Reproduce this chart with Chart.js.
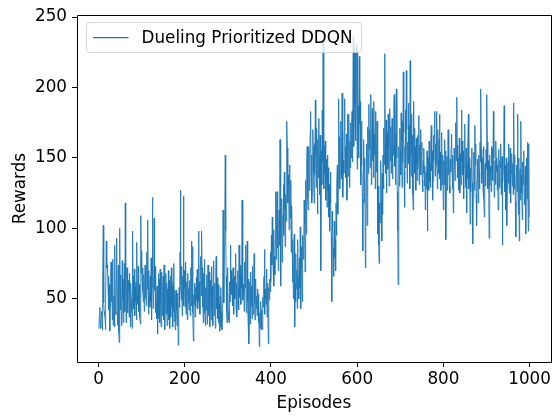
<!DOCTYPE html>
<html>
<head>
<meta charset="utf-8">
<title>Dueling Prioritized DDQN</title>
<script src="https://cdn.jsdelivr.net/npm/chart.js@4/dist/chart.umd.min.js"></script>
<style>
    html, body { margin: 0; padding: 0; background: #fff; }
    canvas { display: block; }
</style>
</head>
<body>
<canvas id="rewardsChart" width="554" height="416"></canvas>
<script>
// Reward per episode, 100 episodes per block
const rewards000 = [
    29, 31, 38, 44, 33, 29, 37, 41, 35, 28, 62, 102, 47, 41, 39, 36, 28, 55, 91, 72,
    74, 70, 58, 66, 42, 60, 27, 44, 61, 76, 48, 65, 35, 78, 31, 37, 52, 30, 88, 41,
    39, 60, 93, 42, 31, 55, 74, 26, 19, 100, 61, 42, 67, 31, 45, 77, 50, 33, 64, 40,
    75, 41, 118, 64, 33, 58, 72, 47, 40, 63, 56, 37, 68, 44, 30, 61, 50, 41, 29, 98,
    54, 66, 43, 71, 38, 59, 47, 62, 35, 90, 52, 46, 73, 41, 60, 49, 37, 32, 109, 68
];
const rewards100 = [
    84, 63, 72, 55, 48, 67, 41, 58, 74, 50, 62, 45, 83, 57, 106, 61, 39, 70, 52, 44,
    66, 48, 79, 35, 58, 122, 71, 43, 60, 107, 56, 73, 40, 64, 47, 36, 59, 25, 52, 68,
    36, 64, 33, 71, 47, 30, 58, 69, 38, 55, 66, 35, 74, 41, 28, 54, 68, 39, 61, 31,
    57, 40, 70, 35, 63, 29, 52, 66, 37, 72, 44, 59, 30, 62, 41, 75, 34, 56, 28, 50,
    56, 42, 31, 54, 47, 17, 39, 58, 44, 83, 127, 60, 49, 73, 38, 66, 52, 123, 45, 70
];
const rewards200 = [
    58, 44, 76, 39, 62, 51, 35, 68, 47, 57, 42, 63, 50, 38, 72, 45, 91, 56, 87, 40,
    20, 53, 46, 61, 37, 58, 44, 65, 49, 71, 43, 55, 98, 48, 62, 39, 74, 80, 52, 98,
    72, 44, 61, 33, 68, 40, 78, 36, 31, 58, 42, 67, 32, 55, 74, 38, 62, 69, 30, 52,
    63, 35, 73, 42, 59, 31, 66, 77, 38, 54, 61, 29, 70, 80, 43, 65, 47, 36, 60, 33,
    46, 27, 52, 30, 58, 41, 28, 35, 62, 113, 74, 47, 88, 113, 152, 98, 66, 41, 33, 72
];
const rewards300 = [
    58, 41, 35, 33, 62, 48, 88, 55, 70, 53, 64, 45, 72, 53, 39, 66, 50, 58, 82, 44,
    61, 37, 48, 70, 56, 42, 88, 63, 51, 74, 46, 67, 58, 120, 72, 49, 60, 53, 41, 76,
    58, 88, 66, 40, 74, 91, 48, 33, 64, 18, 41, 62, 32, 69, 45, 59, 36, 73, 47, 39,
    59, 82, 47, 35, 64, 60, 43, 52, 38, 57, 53, 33, 45, 16, 40, 29, 48, 42, 35, 28,
    28, 51, 44, 62, 66, 85, 39, 57, 50, 46, 71, 37, 61, 45, 18, 58, 49, 64, 55, 83
];
const rewards400 = [
    62, 95, 74, 108, 85, 71, 99, 59, 80, 67, 92, 126, 78, 104, 126, 86, 118, 70, 97, 113,
    88, 163, 130, 59, 102, 121, 76, 84, 109, 131, 95, 140, 113, 87, 124, 105, 150, 176, 157, 118,
    138, 131, 99, 145, 122, 107, 134, 83, 116, 92, 62, 88, 50, 74, 96, 30, 61, 48, 82, 57,
    70, 43, 92, 66, 53, 50, 79, 58, 101, 43, 72, 87, 60, 48, 95, 78, 88, 120, 103, 69,
    111, 134, 96, 145, 158, 122, 113, 141, 158, 127, 149, 168, 183, 135, 152, 118, 126, 170, 158, 140
];
const rewards500 = [
    118, 160, 138, 191, 152, 129, 171, 145, 110, 163, 136, 178, 150, 124, 166, 142, 70, 155, 131, 184,
    147, 233, 176, 128, 158, 139, 162, 120, 149, 134, 115, 152, 127, 143, 108, 131, 98, 122, 140, 118,
    93, 48, 112, 101, 86, 74, 66, 105, 79, 92, 70, 118, 95, 132, 145, 110, 131, 192, 150, 165,
    128, 141, 176, 155, 135, 196, 160, 122, 148, 139, 170, 192, 143, 158, 136, 167, 120, 149, 181, 137,
    156, 181, 129, 162, 143, 175, 150, 168, 183, 147, 171, 236, 158, 229, 190, 176, 225, 162, 203, 231
];
const rewards600 = [
    142, 229, 168, 187, 150, 222, 174, 190, 131, 158, 176, 145, 121, 84, 140, 163, 118, 136, 150, 72,
    98, 135, 160, 102, 147, 172, 139, 188, 156, 170, 143, 178, 195, 131, 162, 185, 148, 170, 136, 190,
    152, 167, 128, 183, 140, 143, 176, 112, 96, 130, 88, 75, 118, 104, 132, 148, 120, 91, 139, 110,
    152, 128, 171, 145, 224, 160, 139, 177, 125, 150, 168, 142, 181, 157, 130, 163, 185, 148, 172, 139,
    160, 178, 135, 170, 152, 186, 195, 144, 167, 131, 179, 199, 150, 126, 98, 60, 142, 158, 130, 171
];
const rewards700 = [
    155, 138, 182, 162, 129, 176, 147, 211, 168, 140, 115, 158, 184, 143, 212, 170, 132, 161, 150, 189,
    146, 173, 128, 219, 160, 137, 181, 152, 166, 124, 113, 190, 148, 171, 139, 158, 127, 164, 145, 134,
    166, 142, 153, 180, 131, 159, 147, 170, 138, 152, 161, 134, 126, 148, 139, 157, 130, 144, 113, 121,
    140, 128, 155, 98, 136, 150, 127, 162, 133, 146, 129, 158, 173, 141, 155, 120, 134, 166, 148, 172,
    183, 137, 160, 145, 183, 152, 128, 170, 148, 139, 163, 181, 135, 154, 127, 146, 168, 131, 152, 140
];
const rewards800 = [
    113, 148, 131, 163, 142, 155, 92, 136, 151, 127, 144, 170, 138, 156, 130, 125, 149, 140, 158, 167,
    143, 128, 152, 111, 139, 157, 146, 134, 160, 175, 148, 193, 159, 136, 150, 127, 142, 164, 125, 139,
    153, 131, 184, 147, 162, 138, 155, 121, 143, 168, 174, 140, 129, 157, 111, 146, 135, 159, 181, 128,
    150, 137, 103, 143, 126, 148, 157, 132, 89, 121, 139, 154, 127, 173, 145, 160, 124, 102, 133, 149,
    136, 118, 152, 140, 128, 161, 147, 199, 156, 132, 144, 150, 127, 158, 121, 108, 139, 146, 130, 156
];
const rewards900 = [
    142, 195, 161, 128, 148, 137, 93, 152, 130, 144, 139, 126, 158, 143, 157, 134, 183, 150, 122, 135,
    148, 131, 162, 140, 150, 127, 145, 113, 138, 156, 129, 148, 143, 160, 124, 137, 151, 88, 133, 142,
    158, 187, 126, 145, 134, 113, 150, 102, 128, 139, 147, 132, 160, 125, 144, 157, 118, 141, 139, 153,
    130, 146, 124, 189, 152, 128, 140, 119, 94, 137, 145, 126, 181, 133, 110, 150, 91, 128, 142, 120,
    176, 138, 125, 106, 147, 131, 155, 139, 117, 129, 144, 96, 132, 150, 121, 161, 134, 98, 160, 108
];

const xTicks = [0, 200, 400, 600, 800, 1000];
const yTicks = [50, 100, 150, 200, 250];

const rewards = [].concat(
    rewards000, rewards100, rewards200, rewards300, rewards400,
    rewards500, rewards600, rewards700, rewards800, rewards900
);
const points = rewards.map((r, i) => ({ x: i, y: r }));

const FONT = '"DejaVu Sans", "Liberation Sans", sans-serif';
const FONT_SIZE = 16.8;
const LINE_COLOR = '#1f77b4';

// frame on all four sides, like the matplotlib axes box
const frameBox = {
    id: 'frameBox',
    afterDraw(chart) {
        const {ctx, chartArea: a} = chart;
        const l = Math.round(a.left) + 0.5, r = Math.round(a.right) + 0.5;
        const t = Math.round(a.top) + 0.5, b = Math.round(a.bottom) + 0.5;
        ctx.save();
        ctx.strokeStyle = '#000';
        ctx.lineWidth = 1;
        ctx.beginPath();
        ctx.moveTo(l, t);
        ctx.lineTo(r, t);
        ctx.lineTo(r, b);
        ctx.lineTo(l, b);
        ctx.closePath();
        ctx.stroke();
        ctx.restore();
    }
};

// legend box in the upper left corner, drawn over the line
const cornerLegend = {
    id: 'cornerLegend',
    afterDatasetsDraw(chart) {
        const {ctx, chartArea: a} = chart;
        const ds = chart.data.datasets[0];
        ctx.save();
        ctx.font = `${FONT_SIZE}px ${FONT}`;
        const textW = ctx.measureText(ds.label).width;
        const x0 = a.left + 9.5, y0 = a.top + 7.5;
        const h = 30, w = 64 + textW;
        const r = 3;
        ctx.beginPath();
        ctx.moveTo(x0 + r, y0);
        ctx.arcTo(x0 + w, y0, x0 + w, y0 + h, r);
        ctx.arcTo(x0 + w, y0 + h, x0, y0 + h, r);
        ctx.arcTo(x0, y0 + h, x0, y0, r);
        ctx.arcTo(x0, y0, x0 + w, y0, r);
        ctx.closePath();
        ctx.fillStyle = 'rgba(255,255,255,0.8)';
        ctx.fill();
        ctx.strokeStyle = 'rgba(204,204,204,0.8)';
        ctx.lineWidth = 1;
        ctx.stroke();

        const cy = y0 + h / 2;
        ctx.beginPath();
        ctx.moveTo(x0 + 6.5, cy);
        ctx.lineTo(x0 + 42, cy);
        ctx.strokeStyle = LINE_COLOR;
        ctx.lineWidth = 1.2;
        ctx.stroke();

        ctx.fillStyle = '#000';
        ctx.textBaseline = 'middle';
        ctx.textAlign = 'left';
        ctx.fillText(ds.label, x0 + 55, cy + 1);
        ctx.restore();
    }
};

const ctxRewards = document.getElementById('rewardsChart');
new Chart(ctxRewards, {
    type: 'line',
    data: {
        datasets: [{
            label: 'Dueling Prioritized DDQN',
            data: points,
            borderColor: LINE_COLOR,
            borderWidth: 0.9,
            pointRadius: 0,
            tension: 0,
            fill: false
        }]
    },
    options: {
        responsive: false,
        animation: false,
        devicePixelRatio: 1,
        layout: { autoPadding: false, padding: { left: 0, right: 1, top: 12, bottom: 0 } },
        plugins: {
            legend: { display: false },
            tooltip: { enabled: false }
        },
        scales: {
            x: {
                type: 'linear',
                min: -50,
                max: 1049,
                afterFit: (scale) => { scale.height = 54; },
                afterBuildTicks: (scale) => { scale.ticks = xTicks.map(v => ({ value: v })); },
                grid: { drawOnChartArea: false, drawTicks: true, tickLength: 5, tickColor: '#000' },
                border: { display: false },
                ticks: {
                    color: '#000',
                    padding: 3,
                    maxRotation: 0,
                    font: { family: FONT, size: FONT_SIZE },
                    callback: (v) => String(v)
                },
                title: {
                    display: true,
                    text: 'Episodes',
                    color: '#000',
                    padding: { top: 0, bottom: 2 },
                    font: { family: FONT, size: FONT_SIZE }
                }
            },
            y: {
                min: 5.1,
                max: 251.4,
                afterFit: (scale) => { scale.width = 77; },
                afterBuildTicks: (scale) => { scale.ticks = yTicks.map(v => ({ value: v })); },
                grid: { drawOnChartArea: false, drawTicks: true, tickLength: 5, tickColor: '#000' },
                border: { display: false },
                ticks: {
                    color: '#000',
                    padding: 5,
                    font: { family: FONT, size: FONT_SIZE },
                    callback: (v) => String(v)
                },
                title: {
                    display: true,
                    text: 'Rewards',
                    color: '#000',
                    padding: { top: 11, bottom: 0 },
                    font: { family: FONT, size: FONT_SIZE }
                }
            }
        }
    },
    plugins: [frameBox, cornerLegend]
});
</script>
</body>
</html>
